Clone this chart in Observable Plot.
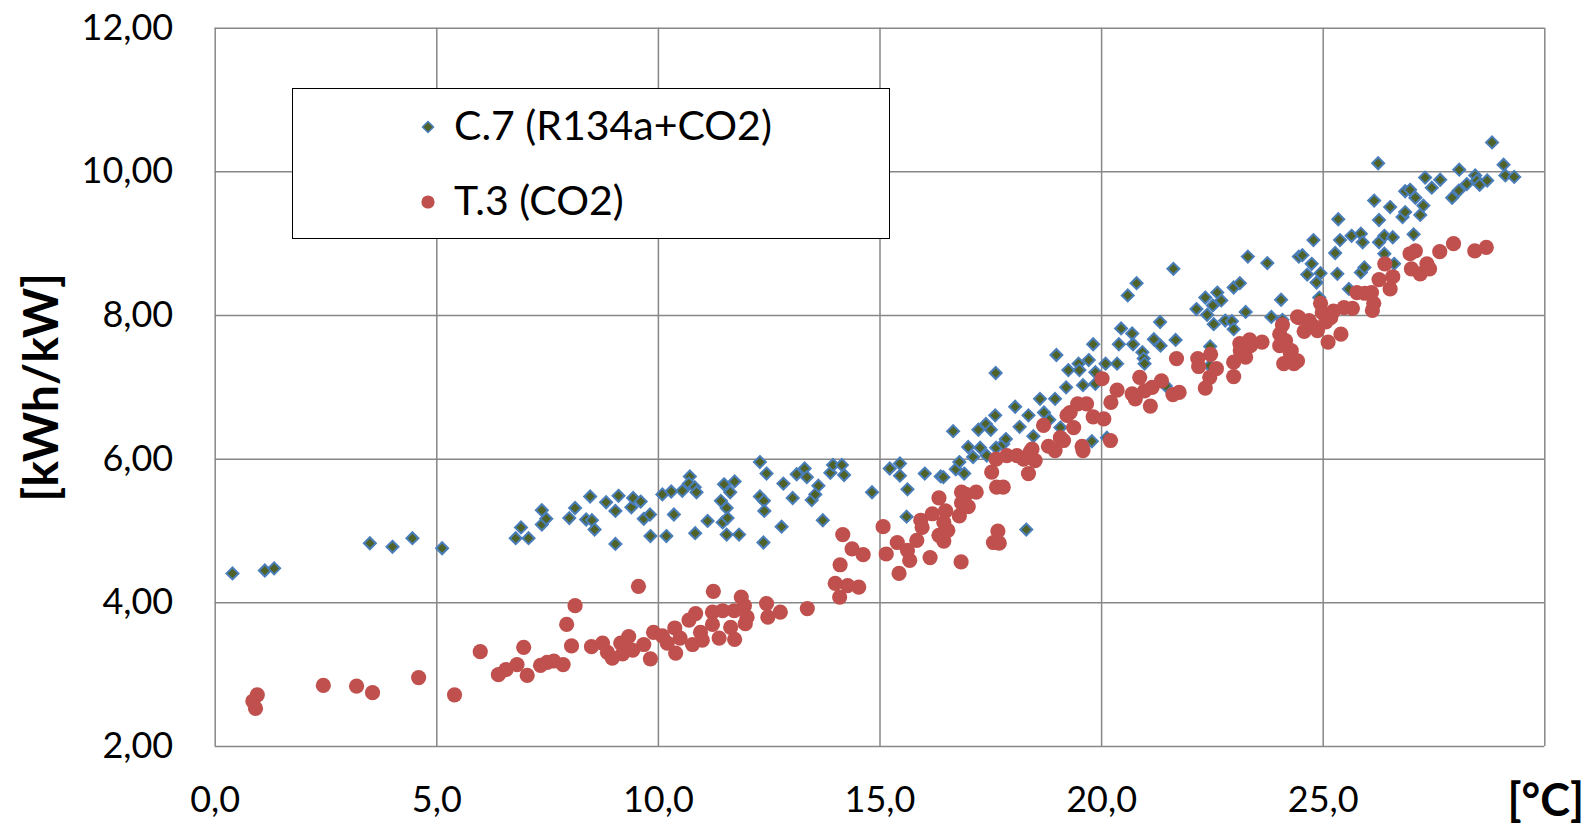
<!DOCTYPE html>
<html><head><meta charset="utf-8">
<script src="https://cdn.jsdelivr.net/npm/d3@7"></script>
<script src="https://cdn.jsdelivr.net/npm/@observablehq/plot@0.6"></script>
<style>
body{margin:0;background:#fff;}
#wrap{position:relative;width:1590px;height:825px;font-family:Lato,"Open Sans",sans-serif;}
#legend{position:absolute;left:292px;top:88px;width:596px;height:149px;border:1.5px solid #000;background:#fff;}
.item{position:absolute;left:0;height:40px;font-size:41px;color:#000;}
.item svg{position:absolute;}
.item span{position:absolute;left:161px;top:0;white-space:nowrap;line-height:40px;}
</style></head><body><div id="wrap"></div>
<script>
const seriesNames = ["C.7 (R134a+CO2)", "T.3 (CO2)"];
const xTicks = [0, 5, 10, 15, 20, 25, 30];
const yTicks = [2, 4, 6, 8, 10, 12];
const xUnit = "[°C]";
const yUnit = "[kWh/kW]";

// C.7 (R134a+CO2): [temperature, value]
const c7 = [[0.39,4.41],[1.12,4.45],[1.33,4.48],[3.49,4.83],[4.00,4.78],[4.45,4.90],[5.12,4.76],[6.78,4.90],[6.90,5.05],[7.07,4.90],[7.37,5.29],[7.37,5.09],[7.47,5.17],[7.99,5.18],[8.12,5.32],[8.46,5.48],[8.37,5.16],[8.50,5.15],[8.56,5.02],[8.82,5.40],[9.03,5.28],[9.03,4.82],[9.10,5.49],[9.39,5.33],[9.43,5.46],[9.60,5.41],[9.67,5.17],[9.81,5.23],[9.82,4.93],[10.18,4.93],[10.09,5.51],[10.29,5.55],[10.35,5.23],[10.54,5.56],[10.71,5.76],[10.69,5.66],[10.82,5.61],[10.86,5.54],[10.83,4.97],[11.11,5.14],[11.48,5.65],[11.41,5.42],[11.45,5.12],[11.54,5.32],[11.56,5.18],[11.62,5.54],[11.72,5.69],[11.54,4.95],[11.82,4.95],
[12.29,5.96],[12.44,5.80],[12.29,5.48],[12.38,5.42],[12.39,5.28],[12.37,4.84],[12.78,5.06],[12.82,5.66],[13.03,5.46],[13.12,5.79],[13.30,5.87],[13.35,5.75],[13.46,5.43],[13.54,5.51],[13.61,5.63],[13.71,5.15],[13.88,5.81],[13.94,5.92],[14.14,5.92],[14.19,5.78],[14.82,5.54],[15.22,5.87],[15.45,5.94],[15.45,5.77],[15.62,5.58],[16.01,5.80],[15.60,5.20],[16.37,5.76],[16.43,5.75],[16.65,6.39],[16.71,5.86],[16.79,5.96],[16.90,5.80],
[16.99,6.17],[17.10,6.03],[17.22,6.41],[17.26,6.16],[17.39,6.49],[17.41,6.05],[17.50,6.41],[17.60,6.61],[17.61,7.20],[17.62,6.16],[17.78,6.21],[17.84,6.28],[18.05,6.73],[18.15,6.45],[18.30,5.02],[18.35,6.61],[18.46,6.32],[18.61,6.84],[18.70,6.65],[18.82,6.55],[18.95,6.84],[18.98,7.45],[19.07,6.44],[19.20,7.00],[19.25,7.24],[19.48,7.33],[19.50,7.24],[19.58,7.03],[19.71,7.38],[19.81,7.60],[19.86,7.21],[19.86,7.05],[19.78,6.25],[20.09,7.33],[20.12,6.30],[20.35,7.33],[20.39,7.60],[20.71,7.60],[20.44,7.82],[20.59,8.28],[20.69,7.75],[20.79,8.45],[20.92,7.49],[20.95,7.40],[20.97,7.33],[21.18,7.67],[21.32,7.91],[21.33,7.58],[21.62,8.65],[21.67,7.66],[21.45,7.02],
[22.14,8.09],[22.34,8.25],[22.38,8.01],[22.45,7.57],[22.44,7.30],[22.51,8.14],[22.53,7.88],[22.61,8.32],[22.70,8.21],[22.79,7.93],[22.94,7.92],[22.98,7.81],[22.98,8.39],[23.12,8.45],[23.25,8.05],[23.30,8.82],[23.74,8.73],[23.83,7.98],[24.05,8.22],[24.08,7.94],[24.45,8.82],[24.53,8.84],[24.78,9.05],[24.74,8.72],[24.64,8.57],[24.85,8.46],[24.94,8.59],[24.91,8.25],[25.34,9.34],[25.38,9.05],[25.27,8.87],[25.32,8.58],[25.58,8.37],[25.64,9.11],[25.85,9.14],[25.89,9.02],[25.85,8.60],[25.93,8.67],[26.15,9.60],[26.24,10.12],[26.26,9.33],[26.26,9.02],[26.38,9.11],[26.38,8.86],[26.51,9.51],[26.57,9.09],[26.60,8.72],[26.79,9.37],[26.85,9.44],[26.85,9.73],
[26.96,9.75],[27.04,9.13],[27.08,9.64],[27.19,9.40],[27.26,9.53],[27.30,9.92],[27.45,9.78],[27.64,9.89],[27.91,9.64],[28.06,9.74],[28.07,10.03],[28.24,9.83],[28.43,9.95],[28.47,9.88],[28.53,9.82],[28.70,9.88],[28.81,10.41],[29.07,10.10],[29.11,9.95],[29.31,9.93]];

// T.3 (CO2): [temperature, value]
const t3 = [[0.95,2.72],[0.85,2.63],[0.91,2.53],[2.44,2.85],[3.19,2.84],[3.55,2.75],[4.59,2.96],[5.40,2.72],[5.98,3.32],[6.39,3.00],[6.56,3.07],[6.81,3.14],[6.96,3.38],[7.04,2.99],[7.34,3.13],[7.49,3.17],[7.64,3.19],[7.85,3.14],[7.93,3.70],[8.12,3.96],[8.04,3.40],[8.49,3.39],[8.74,3.44],[8.85,3.31],[8.96,3.23],[9.15,3.44],[9.19,3.29],[9.33,3.53],[9.42,3.34],[9.55,4.23],[9.67,3.42],[9.82,3.22],[9.89,3.59],[10.09,3.54],[10.20,3.44],[10.39,3.30],[10.37,3.65],[10.49,3.51],[10.69,3.76],[10.84,3.85],[10.77,3.42],[10.95,3.59],[10.99,3.48],[11.24,4.16],[11.22,3.87],[11.22,3.70],[11.37,3.51],[11.45,3.89],[11.63,3.66],[11.71,3.89],[11.72,3.49],[11.87,4.08],[11.94,3.96],[12.00,3.80],[11.96,3.71],[12.44,3.99],[12.47,3.80],[12.75,3.87],[13.36,3.92],[14.09,4.08],[13.99,4.27],[14.27,4.24],[14.52,4.22],[14.10,4.53],[14.16,4.95],[14.37,4.75],[14.62,4.67],[15.07,5.06],[15.14,4.68],[15.43,4.41],[15.39,4.84],[15.62,4.73],[15.67,4.59],[15.83,4.87],[15.95,5.05],[15.92,5.15],[16.13,4.63],[16.18,5.24],[16.33,5.46],[16.33,4.94],[16.44,4.86],[16.44,5.12],[16.48,5.28],[16.53,5.01],[16.79,5.21],[16.83,4.57],[16.84,5.54],[16.84,5.39],[16.99,5.34],[16.94,5.51],[17.17,5.54],[17.52,5.82],[17.62,6.00],[17.63,5.61],[17.78,5.61],[17.66,5.00],[17.56,4.84],[17.69,4.83],[17.86,6.05],[18.09,6.05],[18.24,6.00],[18.39,6.10],[18.35,5.80],[18.50,5.98],[18.43,6.14],[18.69,6.47],[18.80,6.18],[18.95,6.12],[19.07,6.30],[19.14,6.26],[19.22,6.61],[19.29,6.65],[19.37,6.44],[19.46,6.77],[19.66,6.77],[19.56,6.18],[19.58,6.12],[19.81,6.59],[20.05,6.56],[20.01,7.12],[20.20,6.26],[20.21,6.79],[20.35,6.96],[20.69,6.91],[20.76,6.84],[20.86,7.14],[20.97,6.95],[21.10,6.74],[21.14,7.00],[21.35,7.09],[21.61,6.90],[21.75,6.93],[21.69,7.40],[22.17,7.40],[22.19,7.29],[22.34,6.99],[22.44,7.14],[22.46,7.46],[22.59,7.26],[22.98,7.35],[22.98,7.15],[23.12,7.61],[23.13,7.51],[23.25,7.42],[23.34,7.66],[23.36,7.58],[23.62,7.63],[24.02,7.58],[24.08,7.87],[24.11,7.33],[24.15,7.65],[24.28,7.51],[24.34,7.33],[24.42,7.98],[24.02,7.74],[24.45,7.97],[24.57,7.78],[24.68,7.93],[24.76,7.86],[24.87,7.79],[24.94,8.17],[24.98,8.04],[25.06,7.91],[25.11,7.63],[25.17,7.97],[25.23,8.06],[25.40,7.74],[25.47,8.11],[25.66,8.10],[25.76,8.32],[25.94,8.31],[26.11,8.07],[26.14,8.17],[26.09,8.32],[26.26,8.50],[26.39,8.72],[26.51,8.37],[26.57,8.54],[26.96,8.86],[27.08,8.90],[26.99,8.65],[27.19,8.58],[27.34,8.72],[27.40,8.65],[27.63,8.89],[27.94,9.00],[28.42,8.90],[28.68,8.95],[24.26,7.47],[24.42,7.37]];

const colors = {c7Fill: "#4f6228", c7Stroke: "#4a7ebb", t3Fill: "#c0504d", grid: "#878787"};
const fmtX = d => d.toFixed(1).replace(".", ",");
const fmtY = d => d.toFixed(2).replace(".", ",");

const chart = Plot.plot({
  width: 1590, height: 825,
  marginLeft: 214.7, marginRight: 45.7, marginTop: 27.7, marginBottom: 79,
  style: {fontFamily: "Lato, 'Open Sans', sans-serif", color: "#000", background: "#fff", overflow: "visible"},
  x: {domain: [0, 30]},
  y: {domain: [2, 12]},
  marks: [
    Plot.ruleY(yTicks, {stroke: colors.grid, strokeWidth: 1.5}),
    Plot.ruleX(xTicks, {stroke: colors.grid, strokeWidth: 1.5}),
    Plot.axisX(xTicks.slice(0, -1), {tickSize: 0, tickPadding: 40, tickFormat: fmtX, fontSize: 36, label: null}),
    Plot.axisY(yTicks, {tickSize: 0, tickPadding: 42, tickFormat: fmtY, fontSize: 36, label: null}),
    Plot.dot(c7, {x: d => d[0], y: d => d[1], symbol: "diamond2", r: 5.4, fill: colors.c7Fill, stroke: colors.c7Stroke, strokeWidth: 2}),
    Plot.dot(t3, {x: d => d[0], y: d => d[1], r: 7.6, fill: colors.t3Fill, stroke: "none"}),
    Plot.text([xUnit], {frameAnchor: "bottom-right", text: d => d, dx: 1, dy: 55, fontSize: 45, fontWeight: "bold", textAnchor: "middle", lineAnchor: "middle"}),
    Plot.text([yUnit], {frameAnchor: "left", text: d => d, dx: -173, rotate: -90, fontSize: 48, fontWeight: "bold", textAnchor: "middle", lineAnchor: "middle"})
  ]
});
const wrap = document.getElementById("wrap");
wrap.appendChild(chart);

const legend = document.createElement("div");
legend.id = "legend";
legend.innerHTML = `
  <div class="item" style="top:16px;width:100%">
    <svg width="16" height="16" style="left:126.5px;top:14px"><path d="M8,2.5L13.5,8L8,13.5L2.5,8Z" fill="${colors.c7Fill}" stroke="${colors.c7Stroke}" stroke-width="1.5"/></svg>
    <span>${seriesNames[0]}</span>
  </div>
  <div class="item" style="top:91px;width:100%">
    <svg width="16" height="16" style="left:126.5px;top:14px"><circle cx="8" cy="8" r="6.6" fill="${colors.t3Fill}"/></svg>
    <span>${seriesNames[1]}</span>
  </div>`;
wrap.appendChild(legend);
</script>
</body></html>
